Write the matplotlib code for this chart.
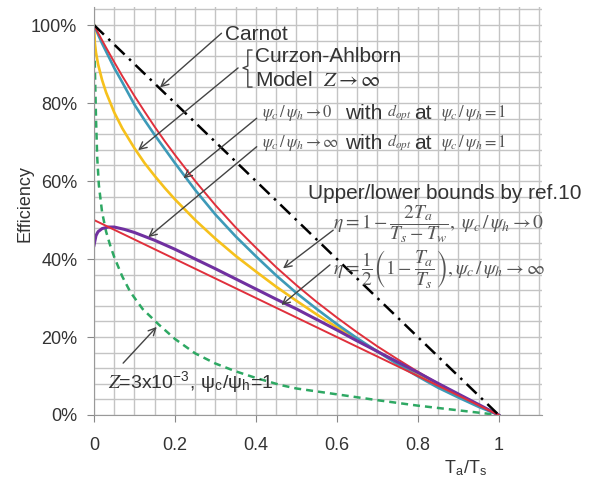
import numpy as np
import matplotlib
matplotlib.use('Agg')
import matplotlib.pyplot as plt
from matplotlib.ticker import MultipleLocator, FuncFormatter

plt.rcParams['font.family'] = ['Liberation Sans', 'DejaVu Sans']
plt.rcParams['mathtext.fontset'] = 'stix'

## values, x = Ta/Ts, efficiency as a fraction
carnot_x = [0.0, 1.0]
carnot_y = [1.0, 0.0]

ca_x = [0, 0.002, 0.005, 0.01, 0.02, 0.03, 0.05, 0.07, 0.1, 0.125, 0.15, 0.175, 0.2, 0.25, 0.3, 0.35,
        0.4, 0.45, 0.5, 0.55, 0.6, 0.65, 0.7, 0.75, 0.8, 0.85, 0.9, 0.95, 1.0]
ca_y = [1.0, 0.955, 0.929, 0.9, 0.859, 0.827, 0.776, 0.735, 0.684, 0.646, 0.613, 0.582, 0.553, 0.5, 0.452, 0.408,
        0.368, 0.329, 0.293, 0.258, 0.225, 0.194, 0.163, 0.134, 0.106, 0.078, 0.051, 0.025, 0.0]

upper_x = [0, 0.005, 0.01, 0.02, 0.03, 0.05, 0.07, 0.1, 0.125, 0.15, 0.175, 0.2, 0.25, 0.3, 0.35,
           0.4, 0.45, 0.5, 0.55, 0.6, 0.65, 0.7, 0.75, 0.8, 0.85, 0.9, 0.95, 1.0]
upper_y = [1.0, 0.99, 0.98, 0.961, 0.942, 0.905, 0.869, 0.818, 0.778, 0.739, 0.702, 0.667, 0.6, 0.538, 0.481,
           0.429, 0.379, 0.333, 0.29, 0.25, 0.212, 0.176, 0.143, 0.111, 0.081, 0.053, 0.026, 0.0]

psi0_x = [0, 0.005, 0.01, 0.02, 0.03, 0.05, 0.07, 0.1, 0.125, 0.15, 0.175, 0.2, 0.25, 0.3, 0.35,
          0.4, 0.45, 0.5, 0.55, 0.6, 0.65, 0.7, 0.75, 0.8, 0.85, 0.9, 0.95, 1.0]
psi0_y = [1.0, 0.988, 0.976, 0.953, 0.932, 0.89, 0.853, 0.796, 0.756, 0.718, 0.682, 0.646, 0.577, 0.514, 0.458,
          0.407, 0.358, 0.313, 0.272, 0.233, 0.197, 0.163, 0.13, 0.099, 0.07, 0.045, 0.021, 0.0]

lower_x = [0.0, 0.2, 0.4, 0.6, 0.8, 1.0]
lower_y = [0.5, 0.4, 0.3, 0.2, 0.1, 0.0]

psiinf_x = [0, 0.005, 0.01, 0.02, 0.035, 0.05, 0.075, 0.1, 0.15, 0.2, 0.25, 0.3, 0.35, 0.4, 0.45,
            0.5, 0.55, 0.6, 0.65, 0.7, 0.75, 0.8, 0.85, 0.9, 0.95, 1.0]
psiinf_y = [0.435, 0.46, 0.47, 0.478, 0.482, 0.482, 0.476, 0.468, 0.448, 0.425, 0.4, 0.375, 0.349, 0.323, 0.297,
            0.272, 0.245, 0.218, 0.19, 0.163, 0.136, 0.109, 0.081, 0.054, 0.027, 0.0]

z3_x = [0, 0.002, 0.005, 0.008, 0.012, 0.02, 0.03, 0.04, 0.05, 0.07, 0.09, 0.12, 0.16, 0.2, 0.25, 0.3, 0.35,
        0.4, 0.46, 0.5, 0.6, 0.7, 0.8, 0.9, 1.0]
z3_y = [0.97, 0.9, 0.76, 0.66, 0.59, 0.52, 0.47, 0.435, 0.405, 0.355, 0.315, 0.272, 0.232, 0.195, 0.158, 0.132, 0.112,
        0.095, 0.077, 0.068, 0.053, 0.038, 0.024, 0.012, 0.0]

xticks = [0, 0.2, 0.4, 0.6, 0.8, 1.0]
xticklabels = ['0', '0.2', '0.4', '0.6', '0.8', '1']
yticks = [0, 0.2, 0.4, 0.6, 0.8, 1.0]

red = '#e0303c'
teal = '#3d9ab8'
gold = '#f6c11c'
purple = '#7030a0'
green = '#2ea863'
txt = '#333333'
arr = '#444444'

fig = plt.figure(figsize=(5.9, 4.83), dpi=100)
ax = fig.add_axes([0.1593, 0.1408, 0.7588, 0.8453])

ax.plot(z3_x, z3_y, color=green, lw=1.8, ls=(0, (2.8, 2.0)))
ax.plot(ca_x, ca_y, color=gold, lw=1.9)
ax.plot(psi0_x, psi0_y, color=teal, lw=1.9)
ax.plot(upper_x, upper_y, color=red, lw=1.4)
ax.plot(psiinf_x, psiinf_y, color=purple, lw=2.2)
ax.plot(lower_x, lower_y, color=red, lw=1.4)
ax.plot(carnot_x, carnot_y, color='black', lw=1.8, ls=(0, (5.5, 2.5, 1, 2.5)))

ax.set_xlim(0, 1.106)
ax.set_ylim(0, 1.047)
ax.set_xticks(xticks)
ax.set_xticklabels(xticklabels)
ax.set_yticks(yticks)
ax.yaxis.set_major_formatter(FuncFormatter(lambda v, p: '%d%%' % round(v * 100)))
ax.xaxis.set_minor_locator(MultipleLocator(0.05))
ax.yaxis.set_minor_locator(MultipleLocator(0.04))
ax.grid(which='both', color='#c4c4c4', lw=1.0)
ax.set_axisbelow(True)
ax.tick_params(which='minor', length=0)
ax.tick_params(which='major', length=5, color='#888888', labelsize=13, labelcolor=txt)
ax.tick_params(axis='x', pad=11)
ax.tick_params(axis='y', pad=7)
for s in ['top', 'right']:
    ax.spines[s].set_visible(False)
for s in ['left', 'bottom']:
    ax.spines[s].set_color('#999999')

ax.set_ylabel('Efficiency', fontsize=13, color=txt)
ax.yaxis.set_label_coords(-0.136, 0.519)
ax.set_xlabel(r'T$_{\mathregular{a}}$/T$_{\mathregular{s}}$', fontsize=13, color=txt)
ax.xaxis.set_label_coords(0.829, -0.108)

aprops = dict(arrowstyle='->', color=arr, lw=1.0, shrinkA=0, shrinkB=0, mutation_scale=13)

## Carnot
ax.text(0.323, 0.977, 'Carnot', fontsize=15, color=txt, va='center')
ax.annotate('', xy=(0.163, 0.840), xytext=(0.315, 0.979), arrowprops=aprops)

## Curzon-Ahlborn with bracket
ax.text(0.398, 0.919, 'Curzon-Ahlborn', fontsize=15, color=txt, va='center')
ax.text(0.398, 0.859, r'Model  $Z\rightarrow\infty$', fontsize=15, color=txt, va='center')
ax.plot([0.390, 0.380, 0.380, 0.368, 0.380, 0.380, 0.390],
        [0.936, 0.936, 0.895, 0.890, 0.885, 0.841, 0.841], color=arr, lw=1.0)
ax.annotate('', xy=(0.109, 0.679), xytext=(0.356, 0.890), arrowprops=aprops)

## psi_c/psi_h lines
for yy, lim in [(0.774, r'0'), (0.697, r'\infty')]:
    ax.text(0.414, yy, r'$\psi_c\,/\,\psi_h\rightarrow ' + lim + '$', fontsize=12, color='#555555', va='center')
    ax.text(0.621, yy, 'with', fontsize=15, color=txt, va='center')
    ax.text(0.725, yy, r'$d_{opt}$', fontsize=11.5, color='#555555', va='center')
    ax.text(0.790, yy, 'at', fontsize=15, color=txt, va='center')
    ax.text(0.858, yy, r'$\psi_c\,/\,\psi_h=1$', fontsize=12, color='#555555', va='center')
ax.annotate('', xy=(0.221, 0.607), xytext=(0.402, 0.761), arrowprops=aprops)
ax.annotate('', xy=(0.134, 0.456), xytext=(0.402, 0.688), arrowprops=aprops)

## bounds
ax.text(0.529, 0.568, 'Upper/lower bounds by ref.10', fontsize=15, color=txt, va='center')
ax.text(0.590, 0.488, r'$\eta=1-\dfrac{2T_a}{T_s-T_w},\ \psi_c\,/\,\psi_h\rightarrow 0$',
        fontsize=14, color='#555555', va='center')
ax.text(0.590, 0.374, r'$\eta=\dfrac{1}{2}\left(1-\dfrac{T_a}{T_s}\right),\psi_c\,/\,\psi_h\rightarrow\infty$',
        fontsize=14, color='#555555', va='center')
ax.annotate('', xy=(0.467, 0.376), xytext=(0.591, 0.474), arrowprops=aprops)
ax.annotate('', xy=(0.463, 0.282), xytext=(0.583, 0.385), arrowprops=aprops)

## Z = 3e-3
ax.text(0.035, 0.081, r'$\mathit{Z}$=3x10$^{\mathregular{-3}}$, ψ$_{\mathregular{c}}$/ψ$_{\mathregular{h}}$=1',
        fontsize=14, color=txt, va='center')
ax.annotate('', xy=(0.155, 0.226), xytext=(0.072, 0.133), arrowprops=aprops)

fig.savefig('out.png', dpi=100)
